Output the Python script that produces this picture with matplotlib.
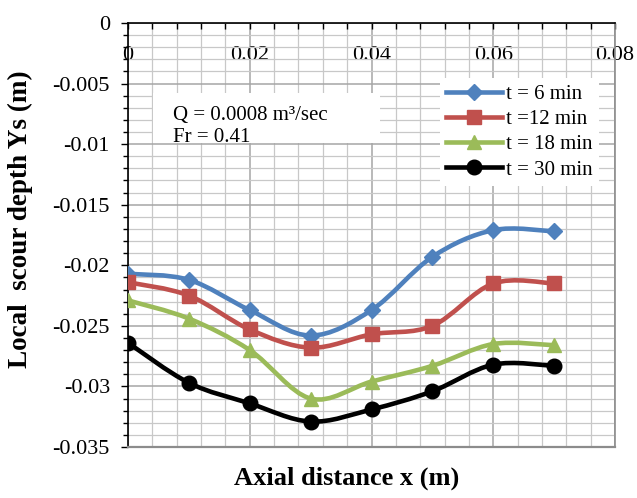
import numpy as np
import matplotlib
matplotlib.use("Agg")
import matplotlib.pyplot as plt
from matplotlib.path import Path
from matplotlib.patches import PathPatch, Rectangle
from matplotlib.lines import Line2D
from matplotlib.ticker import MultipleLocator, FixedLocator, FixedFormatter

plt.rcParams['font.family'] = ['Liberation Serif', 'DejaVu Serif']
plt.rcParams['axes.unicode_minus'] = False

# ---- data ----
x = [0.0, 0.01, 0.02, 0.03, 0.04, 0.05, 0.06, 0.07]
t6 = [-0.0207, -0.0212, -0.0237, -0.0258, -0.0237, -0.0193, -0.0171, -0.0172]
t12 = [-0.0214, -0.0225, -0.0253, -0.0268, -0.0257, -0.0250, -0.0215, -0.0215]
t18 = [-0.0229, -0.0244, -0.0270, -0.0310, -0.0296, -0.0283, -0.0265, -0.0266]
t30 = [-0.0264, -0.0297, -0.0314, -0.0329, -0.0319, -0.0304, -0.0282, -0.0283]
labels = ['t = 6 min', 't =12 min', 't = 18 min', 't = 30 min']
xticks = [0, 0.02, 0.04, 0.06, 0.08]
xticklabels = ['0', '0.02', '0.04', '0.06', '0.08']
yticks = [0, -0.005, -0.01, -0.015, -0.02, -0.025, -0.03, -0.035]
yticklabels = ['0', '-0.005', '-0.01', '-0.015', '-0.02', '-0.025', '-0.03', '-0.035']

series = [t6, t12, t18, t30]
colors = ['#4F81BD', '#C0504D', '#9BBB59', '#000000']
markers = ['D', 's', '^', 'o']
msizes = [8.5, 10, 10, 10.5]


def smooth_path(xs, ys):
    pts = np.column_stack([xs, ys])
    n = len(pts)
    verts = [pts[0]]
    codes = [Path.MOVETO]
    for i in range(n - 1):
        p0 = pts[i - 1] if i > 0 else pts[i]
        p1 = pts[i]
        p2 = pts[i + 1]
        p3 = pts[i + 2] if i + 2 < n else pts[i + 1]
        c1 = p1 + (p2 - p0) / 6.0
        c2 = p2 - (p3 - p1) / 6.0
        verts += [c1, c2, p2]
        codes += [Path.CURVE4] * 3
    return Path(verts, codes)


fig = plt.figure(figsize=(6.37, 4.98), dpi=100)
ax = fig.add_axes([128 / 637, 1 - 447 / 498, (615 - 128) / 637, (447 - 23) / 498])

ax.set_xlim(0, 0.08)
ax.set_ylim(-0.035, 0)

# grid
ax.xaxis.set_major_locator(FixedLocator(xticks))
ax.xaxis.set_major_formatter(FixedFormatter(xticklabels))
ax.xaxis.set_minor_locator(MultipleLocator(0.004))
ax.yaxis.set_major_locator(FixedLocator(yticks))
ax.yaxis.set_major_formatter(FixedFormatter(yticklabels))
ax.yaxis.set_minor_locator(MultipleLocator(0.001))
ax.grid(True, which='major', color='#A6A6A6', lw=1.1)
ax.grid(True, which='minor', color='#C8C8C8', lw=0.9)
ax.set_axisbelow(True)

# spines: x axis at y=0 (top)
ax.spines['bottom'].set_position(('data', 0))
ax.spines['bottom'].set_color('black')
ax.spines['bottom'].set_linewidth(1.2)
ax.spines['top'].set_visible(False)
ax.spines['left'].set_color('black')
ax.spines['left'].set_linewidth(1.2)
ax.spines['right'].set_color('#8C8C8C')
ax.spines['right'].set_linewidth(1.2)
ax.axhline(-0.035, color='#8C8C8C', lw=1.6, clip_on=False, zorder=3)

ax.tick_params(axis='x', which='both', direction='out', length=4.5, width=1,
               labelsize=16, pad=12)
ax.tick_params(axis='y', which='major', direction='out', length=5, width=1,
               labelsize=16, pad=8)
ax.tick_params(axis='y', which='minor', direction='out', length=3.5, width=1)

for ys, c, m, ms in zip(series, colors, markers, msizes):
    ax.add_patch(PathPatch(smooth_path(x, ys), fill=False, edgecolor=c,
                           lw=3.3, zorder=4, capstyle='round'))
    ax.plot(x, ys, ls='none', marker=m, ms=ms, color=c, zorder=5)

# annotation box
ax.add_patch(Rectangle((0.051, 0.717), 0.466, 0.118, transform=ax.transAxes,
                       facecolor='white', edgecolor='none', zorder=2))
ax.text(0.092, 0.783, 'Q = 0.0008 m\u00b3/sec', transform=ax.transAxes,
        fontsize=15, va='center', ha='left', zorder=6)
ax.text(0.092, 0.731, 'Fr = 0.41', transform=ax.transAxes,
        fontsize=15, va='center', ha='left', zorder=6)

handles = [Line2D([], [], color=c, lw=3.3, marker=m, ms=ms)
           for c, m, ms in zip(colors, markers, msizes)]
leg = ax.legend(handles, labels, loc='upper left', bbox_to_anchor=(0.641, 0.870),
                frameon=True, fancybox=False, edgecolor='none', facecolor='white',
                framealpha=1, fontsize=15, handlelength=2.65, handletextpad=0.2,
                labelspacing=0.27, borderpad=0.3, borderaxespad=0)
leg.set_zorder(7)

ax.set_ylabel('Local  scour depth Ys (m)', fontsize=19.5, fontweight='bold')
ax.yaxis.set_label_coords(-0.195, 0.538)
fig.text(347 / 637, 1 - 478 / 498, 'Axial distance x (m)', fontsize=19,
         fontweight='bold', ha='center', va='center')

fig.savefig('out.png', dpi=100)
